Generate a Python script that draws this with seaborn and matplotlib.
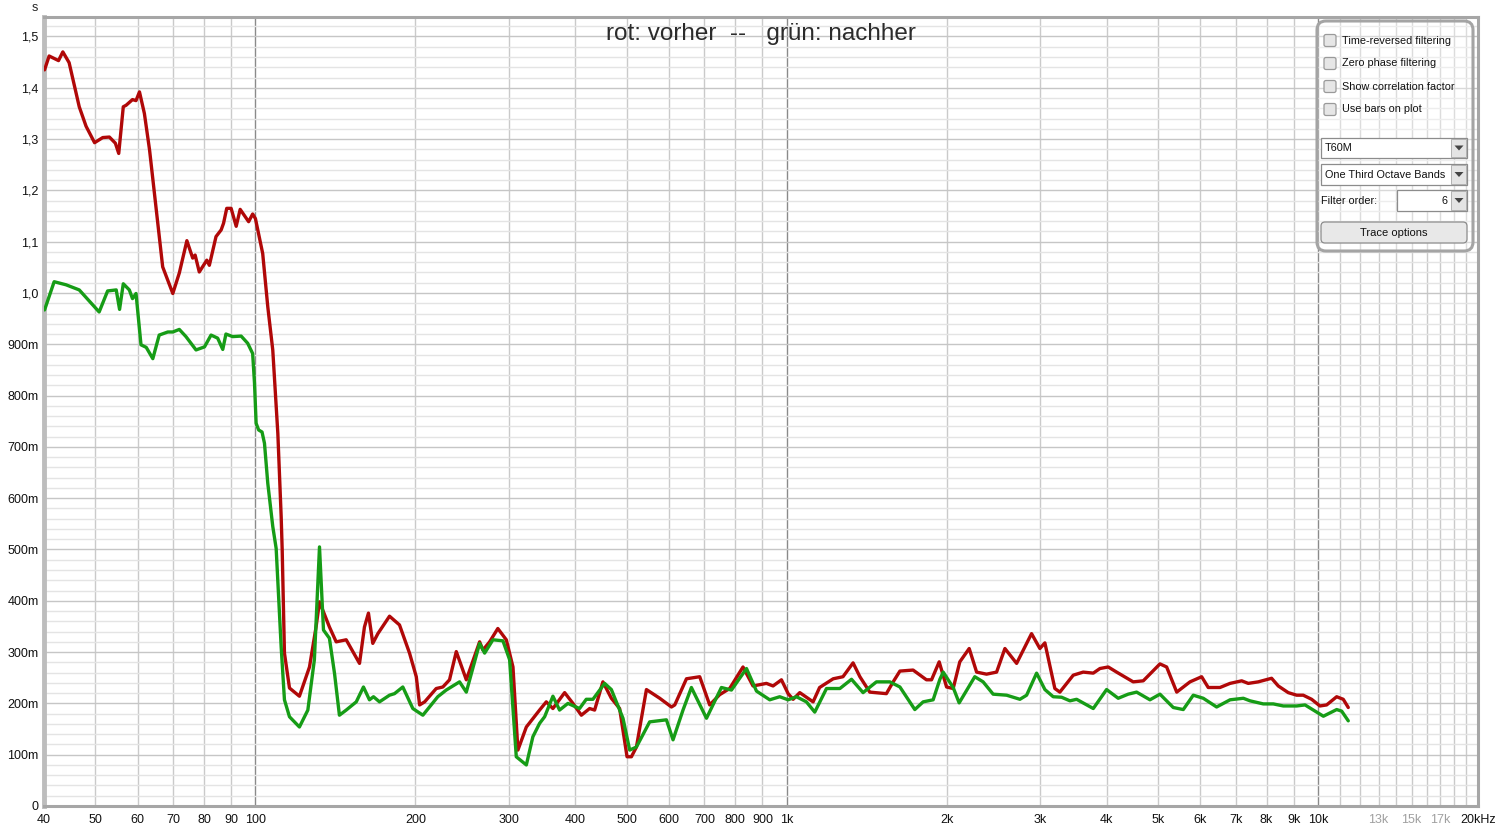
import numpy as np
import pandas as pd
import matplotlib
matplotlib.use("Agg")
import matplotlib.pyplot as plt
import seaborn as sns
from matplotlib.patches import FancyBboxPatch, Polygon
from matplotlib.ticker import FixedLocator, NullLocator

# T60M decay times (s) per frequency (Hz)
red_freq = [40.1, 40.9, 42.6, 43.4, 44.6, 46.6, 48.0, 49.8, 51.6, 53.1, 54.5, 55.3, 56.4, 57.1,
            58.7, 59.6, 60.5, 61.8, 63.2, 64.5, 66.9, 69.9, 71.9, 74.3, 76.2, 77.0, 78.4, 81.0,
            81.9, 84.3, 86.2, 87.1, 88.3, 90.0, 92.0, 93.6, 97.1, 98.8, 100.0, 103.2, 105.5,
            107.8, 110.2, 111.8, 112.3, 113.4, 115.9, 121.0, 126.4, 130.1, 132.0, 137.8, 141.9,
            148.2, 157.0, 160.4, 163.2, 166.3, 170.0, 178.8, 186.7, 195.0, 200.8, 203.7, 208.2,
            218.9, 225.3, 231.9, 238.8, 249.4, 264.2, 268.0, 275.9, 285.9, 296.6, 305.3, 311.9,
            323.5, 342.6, 352.7, 363.0, 381.9, 395.9, 410.6, 425.6, 434.9, 450.8, 467.6, 484.7,
            500.5, 510.1, 521.3, 544.4, 576.7, 606.7, 615.5, 647.5, 685.8, 716.1, 747.7, 780.8,
            827.3, 864.0, 915.7, 942.4, 977.3, 1006, 1028, 1058, 1121, 1153, 1223, 1276, 1333,
            1373, 1433, 1540, 1586, 1633, 1729, 1832, 1873, 1936, 1999, 2057, 2117, 2205, 2277,
            2377, 2483, 2574, 2708, 2889, 2995, 3061, 3196, 3266, 3461, 3614, 3775, 3886, 4028,
            4177, 4488, 4688, 5040, 5188, 5420, 5741, 6038, 6213, 6537, 6829, 7182, 7390, 7717,
            8176, 8416, 8788, 9114, 9378, 9725, 10081, 10379, 10840, 11154, 11399]
red_t60 = [1.435, 1.462, 1.453, 1.470, 1.449, 1.363, 1.325, 1.293, 1.303, 1.304, 1.292, 1.272,
           1.363, 1.366, 1.377, 1.375, 1.392, 1.350, 1.279, 1.197, 1.051, 0.999, 1.039, 1.102,
           1.068, 1.074, 1.041, 1.064, 1.054, 1.110, 1.123, 1.136, 1.165, 1.165, 1.130, 1.163,
           1.139, 1.154, 1.145, 1.077, 0.973, 0.889, 0.726, 0.564, 0.499, 0.298, 0.230, 0.214,
           0.271, 0.350, 0.398, 0.349, 0.320, 0.324, 0.278, 0.349, 0.376, 0.317, 0.336, 0.370,
           0.353, 0.298, 0.252, 0.197, 0.203, 0.229, 0.232, 0.246, 0.301, 0.246, 0.320, 0.304,
           0.320, 0.346, 0.324, 0.271, 0.109, 0.154, 0.187, 0.203, 0.190, 0.221, 0.200, 0.177,
           0.190, 0.187, 0.242, 0.210, 0.190, 0.096, 0.096, 0.115, 0.227, 0.210, 0.193, 0.197,
           0.248, 0.252, 0.197, 0.217, 0.229, 0.271, 0.234, 0.239, 0.234, 0.246, 0.219, 0.208,
           0.221, 0.203, 0.231, 0.248, 0.252, 0.279, 0.252, 0.222, 0.219, 0.242, 0.263, 0.265,
           0.246, 0.246, 0.281, 0.232, 0.229, 0.281, 0.307, 0.261, 0.257, 0.261, 0.307, 0.278,
           0.336, 0.307, 0.318, 0.229, 0.222, 0.255, 0.261, 0.259, 0.268, 0.271, 0.261, 0.242,
           0.244, 0.277, 0.271, 0.222, 0.242, 0.252, 0.231, 0.231, 0.239, 0.244, 0.239, 0.242,
           0.249, 0.234, 0.221, 0.216, 0.216, 0.208, 0.195, 0.197, 0.213, 0.208, 0.192]

green_freq = [40.1, 41.8, 44.0, 46.6, 50.8, 52.7, 54.7, 55.5, 56.4, 57.9, 58.7, 59.6, 60.9, 62.3,
              64.1, 65.9, 68.4, 69.9, 71.9, 74.0, 77.3, 80.2, 82.5, 84.9, 86.8, 88.0, 90.6, 94.0,
              96.7, 98.8, 99.6, 100.3, 101.4, 102.9, 104.0, 105.5, 107.8, 109.4, 111.8, 113.4,
              115.9, 121.0, 125.5, 129.1, 132.0, 134.3, 137.8, 140.9, 143.9, 148.2, 154.8, 159.7,
              163.9, 166.8, 171.2, 178.8, 182.7, 189.4, 197.8, 206.6, 220.4, 228.6, 242.2, 249.4,
              264.2, 270.0, 279.9, 292.3, 300.9, 309.7, 323.5, 332.8, 342.6, 350.2, 363.0, 373.6,
              387.4, 407.4, 419.4, 431.7, 454.2, 467.6, 491.8, 506.3, 521.3, 552.1, 593.7, 610.9,
              637.9, 661.5, 706.2, 753.4, 786.9, 839.9, 877.1, 928.9, 970.0, 1006, 1043, 1089,
              1129, 1188, 1259, 1324, 1392, 1475, 1563, 1633, 1742, 1806, 1886, 1942, 1970, 2057,
              2111, 2259, 2342, 2446, 2593, 2747, 2828, 2953, 3061, 3173, 3291, 3412, 3512, 3775,
              3999, 4206, 4392, 4555, 4826, 5040, 5339, 5576, 5823, 6081, 6443, 6829, 7234, 7446,
              7888, 8237, 8602, 9114, 9451, 9797, 10233, 10840, 11076, 11399]
green_t60 = [0.967, 1.022, 1.016, 1.006, 0.963, 1.004, 1.006, 0.968, 1.018, 1.006, 0.989, 0.999,
             0.899, 0.894, 0.872, 0.918, 0.924, 0.924, 0.929, 0.915, 0.889, 0.895, 0.918, 0.912,
             0.890, 0.920, 0.915, 0.916, 0.902, 0.882, 0.824, 0.746, 0.733, 0.729, 0.707, 0.629,
             0.545, 0.502, 0.310, 0.207, 0.174, 0.154, 0.187, 0.285, 0.505, 0.343, 0.327, 0.258,
             0.177, 0.187, 0.203, 0.232, 0.207, 0.213, 0.203, 0.216, 0.219, 0.232, 0.190, 0.177,
             0.213, 0.226, 0.242, 0.222, 0.317, 0.298, 0.324, 0.322, 0.285, 0.096, 0.080, 0.135,
             0.161, 0.174, 0.214, 0.187, 0.200, 0.190, 0.208, 0.208, 0.239, 0.227, 0.171, 0.109,
             0.115, 0.164, 0.168, 0.129, 0.187, 0.231, 0.171, 0.231, 0.226, 0.268, 0.224, 0.207,
             0.213, 0.207, 0.213, 0.203, 0.183, 0.229, 0.229, 0.247, 0.221, 0.242, 0.242, 0.232,
             0.188, 0.203, 0.207, 0.247, 0.261, 0.231, 0.201, 0.252, 0.242, 0.218, 0.216, 0.208,
             0.216, 0.259, 0.227, 0.213, 0.212, 0.205, 0.208, 0.190, 0.227, 0.210, 0.218, 0.222,
             0.207, 0.218, 0.192, 0.188, 0.216, 0.210, 0.193, 0.207, 0.210, 0.205, 0.199, 0.199,
             0.195, 0.195, 0.197, 0.187, 0.175, 0.188, 0.185, 0.166]

x_ticks = [40, 50, 60, 70, 80, 90, 100, 200, 300, 400, 500, 600, 700, 800, 900, 1000,
           2000, 3000, 4000, 5000, 6000, 7000, 8000, 9000, 10000, 13000, 15000, 17000, 20000]
x_labels = ["40", "50", "60", "70", "80", "90", "100", "200", "300", "400", "500", "600", "700",
            "800", "900", "1k", "2k", "3k", "4k", "5k", "6k", "7k", "8k", "9k", "10k",
            "13k", "15k", "17k", "20kHz"]
y_ticks = [0, 0.1, 0.2, 0.3, 0.4, 0.5, 0.6, 0.7, 0.8, 0.9, 1.0, 1.1, 1.2, 1.3, 1.4, 1.5]
y_labels = ["0", "100m", "200m", "300m", "400m", "500m", "600m", "700m", "800m", "900m",
            "1,0", "1,1", "1,2", "1,3", "1,4", "1,5"]
title_text = "rot: vorher  --   grün: nachher"
checkbox_labels = ["Time-reversed filtering", "Zero phase filtering",
                   "Show correlation factor", "Use bars on plot"]

df = pd.concat([
    pd.DataFrame({"freq": red_freq, "t60": red_t60, "trace": "vorher"}),
    pd.DataFrame({"freq": green_freq, "t60": green_t60, "trace": "nachher"}),
])

sns.set_style("white")
plt.rcParams["font.family"] = ["Liberation Sans", "DejaVu Sans"]

W, H = 1500, 831
fig = plt.figure(figsize=(W / 100, H / 100), dpi=100)
ax = fig.add_axes([44 / W, 1 - 806 / H, (1478 - 44) / W, (806 - 17) / H])

# grid first
v_minor = [f * d for d in (10, 100, 1000) for f in range(1, 10)] + list(range(10000, 20001, 1000))
for v in v_minor:
    if v < 40:
        continue
    c = "#8a8a8a" if v in (100, 1000, 10000) else "#cacaca"
    ax.axvline(v, color=c, lw=1.0, zorder=0)
for i in range(0, 78):
    yv = i * 0.02
    c = "#c6c6c6" if i % 5 == 0 else "#e4e4e4"
    ax.axhline(yv, color=c, lw=1.0, zorder=0)

sns.lineplot(data=df, x="freq", y="t60", hue="trace", estimator=None, sort=False,
             palette={"vorher": "#b00808", "nachher": "#169c16"}, linewidth=2.4,
             legend=False, ax=ax, zorder=3, solid_joinstyle="round", solid_capstyle="round")

ax.set_xscale("log")
ax.set_xlim(40, 20000)
ax.set_ylim(0, 1.538)
ax.xaxis.set_major_locator(FixedLocator(x_ticks))
ax.xaxis.set_minor_locator(NullLocator())
ax.set_xticklabels(x_labels)
ax.set_yticks(y_ticks)
ax.set_yticklabels(y_labels)
ax.tick_params(length=0, labelsize=9, colors="#111111", pad=4)
ax.tick_params(axis="x", pad=6)
for lbl in ax.get_xticklabels():
    if lbl.get_text() in ("13k", "15k", "17k"):
        lbl.set_color("#a0a0a0")
ax.set_xlabel("")
ax.set_ylabel("")
for s in ax.spines.values():
    s.set_color("#a6a6a6")
    s.set_linewidth(2.2)
ax.spines["left"].set_linewidth(3.5)
ax.spines["left"].set_color("#bdbdbd")

ax.text(0.5, 0.978, title_text, transform=ax.transAxes, ha="center", va="center",
        fontsize=17.5, color="#2b2b2b", zorder=5)
fig.text(35 / W, 1 - 8 / H, "s", fontsize=9, ha="center", va="center")

# REW control panel overlay (pixel coordinates)
ov = fig.add_axes([0, 0, 1, 1], facecolor="none")
ov.set_xlim(0, W)
ov.set_ylim(H, 0)
ov.axis("off")
ov.add_patch(FancyBboxPatch((1317, 21), 156, 230, boxstyle="round,pad=0,rounding_size=9",
                            fc=(1, 1, 1, 0.35), ec="#a4a4a4", lw=2.2))
for i, lab in enumerate(checkbox_labels):
    yc = 40.5 + i * 23
    ov.add_patch(FancyBboxPatch((1324, yc - 6), 12, 12, boxstyle="round,pad=0,rounding_size=2",
                                fc="#e6e6e6", ec="#9a9a9a", lw=0.9))
    ov.text(1342, yc, lab, fontsize=7.8, va="center", ha="left", color="#111111")


def combo(y0, y1, x0, text, align="left"):
    ov.add_patch(FancyBboxPatch((x0, y0), 1467 - x0, y1 - y0, boxstyle="square,pad=0",
                                fc="white", ec="#8c8c8c", lw=0.9))
    ov.add_patch(FancyBboxPatch((1451, y0 + 1), 15, y1 - y0 - 2, boxstyle="square,pad=0",
                                fc="#e4e4e4", ec="#a8a8a8", lw=0.6))
    ym = (y0 + y1) / 2
    ov.add_patch(Polygon([[1454.5, ym - 2.5], [1463.5, ym - 2.5], [1459, ym + 2.5]],
                         closed=True, fc="#444444", ec="none"))
    if align == "left":
        ov.text(x0 + 4, ym, text, fontsize=7.8, va="center", ha="left", color="#111111")
    else:
        ov.text(1447, ym, text, fontsize=7.8, va="center", ha="right", color="#111111")


combo(138, 158, 1321, "T60M")
combo(164, 185, 1321, "One Third Octave Bands")
combo(190, 211, 1397, "6", align="right")
ov.text(1321, 200.5, "Filter order:", fontsize=7.8, va="center", ha="left", color="#111111")
ov.add_patch(FancyBboxPatch((1321, 222), 146, 21, boxstyle="round,pad=0,rounding_size=4",
                            fc="#e8e8e8", ec="#8c8c8c", lw=0.9))
ov.text(1394, 233, "Trace options", fontsize=8, va="center", ha="center", color="#111111")

fig.savefig("out.png", dpi=100, facecolor="white")
